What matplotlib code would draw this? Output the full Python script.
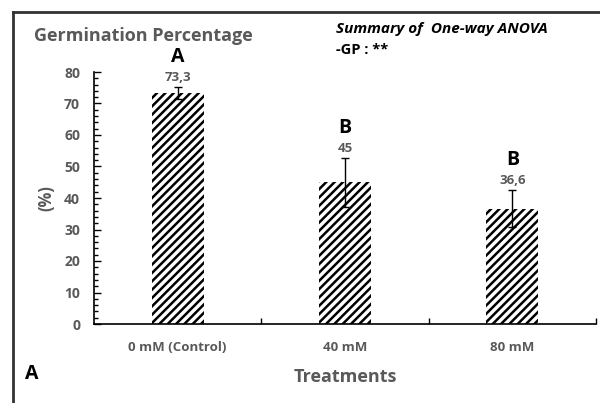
import numpy as np
import matplotlib
matplotlib.use("Agg")
import matplotlib.pyplot as plt
from matplotlib.lines import Line2D
from matplotlib.ticker import MultipleLocator

# data
treatments = ['0 mM (Control)', '40 mM', '80 mM']
gp_mean = [73.3, 45, 36.6]
gp_err = [2.0, 7.7, 5.9]
value_labels = ['73,3', '45', '36,6']
letters = ['A', 'B', 'B']

plt.rcParams['font.family'] = ['Open Sans', 'DejaVu Sans']
plt.rcParams['hatch.linewidth'] = 1.8
gray = '#595959'

fig = plt.figure(figsize=(6, 4.03), dpi=100)
ax = fig.add_axes([94/600, 1-324/403, (596-94)/600, (324-72)/403])

x = np.arange(len(treatments))
ax.bar(x, gp_mean, width=0.31, color='white', edgecolor='black', linewidth=0, hatch='////')
ax.errorbar(x, gp_mean, yerr=gp_err, fmt='none', ecolor='black', elinewidth=1, capsize=3, capthick=1)

# value and letter labels above the bars
for xi, m, e, lab, let in zip(x, gp_mean, gp_err, value_labels, letters):
    top = m + e
    ax.text(xi, top + 1.0, lab, ha='center', va='bottom', fontsize=9.5, fontweight='bold', color=gray)
    ax.text(xi, top + 6.3, let, ha='center', va='bottom', fontsize=14, fontweight='bold', color='black')

ax.set_xlim(-0.5, 2.5)
ax.set_ylim(0, 80)
ax.yaxis.set_major_locator(MultipleLocator(10))
ax.yaxis.set_minor_locator(MultipleLocator(2))
ax.tick_params(axis='y', which='major', direction='in', length=5, width=1, labelsize=10, labelcolor=gray, pad=10)
ax.tick_params(axis='y', which='minor', direction='in', length=3, width=1)
ax.set_xticks(x)
ax.set_xticklabels(treatments, fontsize=9.5, fontweight='bold', color=gray)
ax.set_xticks([0.5, 1.5, 2.5], minor=True)
ax.tick_params(axis='x', which='major', length=0, pad=12)
ax.tick_params(axis='x', which='minor', direction='in', length=4, width=1)
for lab in ax.get_yticklabels():
    lab.set_fontweight('bold')

for s in ['top', 'right']:
    ax.spines[s].set_visible(False)
for s in ['left', 'bottom']:
    ax.spines[s].set_linewidth(1.2)
    ax.spines[s].set_color('black')

ax.set_xlabel('Treatments', fontsize=13, fontweight='bold', color=gray, labelpad=10)
ax.set_ylabel('(%)', fontsize=12, fontweight='bold', color=gray, labelpad=6)

fig.text(34/600, 1-36/403, 'Germination Percentage', fontsize=13, fontweight='bold', color=gray, va='center')
fig.text(336/600, 1-29/403, 'Summary of  One-way ANOVA', fontsize=11, fontweight='bold', style='italic', color='black', va='center')
fig.text(336/600, 1-50/403, '-GP : **', fontsize=10.5, fontweight='bold', color='black', va='center')
fig.text(25/600, 1-374/403, 'A', fontsize=14, fontweight='bold', color='black', va='center')

# outer frame (left and top edges visible)
fig.add_artist(Line2D([13/600, 13/600], [0, 1-12/403], transform=fig.transFigure, color='#333333', linewidth=2))
fig.add_artist(Line2D([13/600, 1], [1-12/403, 1-12/403], transform=fig.transFigure, color='#333333', linewidth=2))

fig.savefig('out.png', dpi=100)
